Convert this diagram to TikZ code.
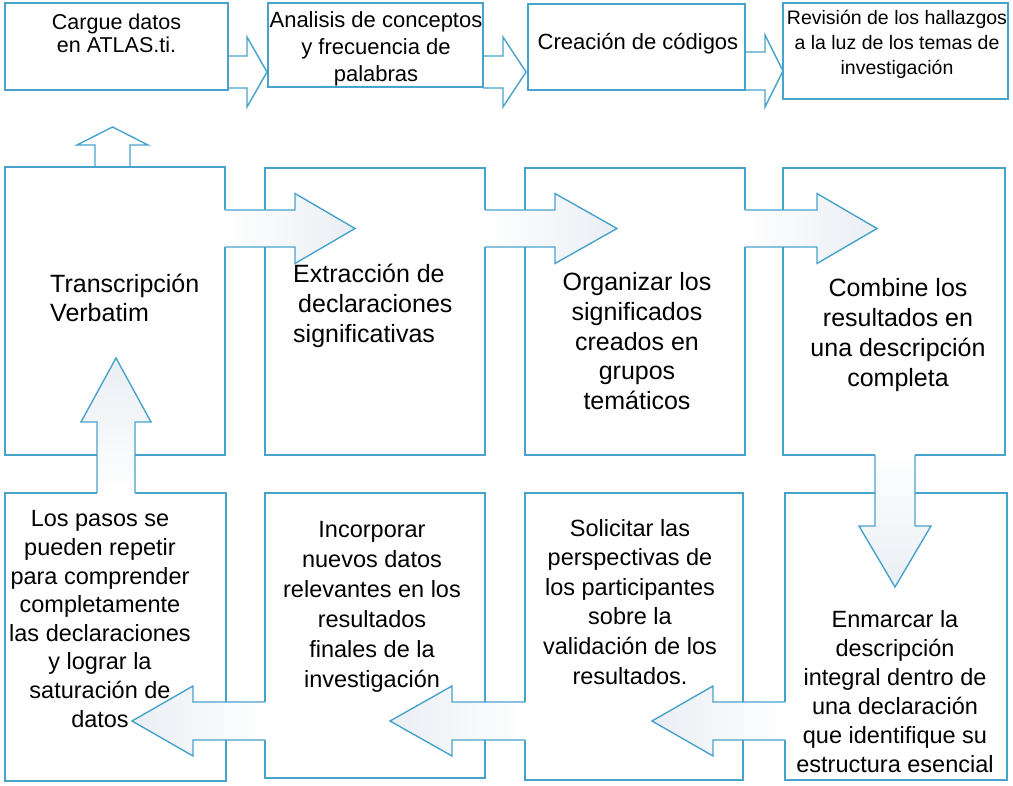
\documentclass[tikz,border=0pt]{standalone}
\usepackage{fontspec}
\setmainfont{Liberation Sans}
\usetikzlibrary{calc}
\definecolor{bl}{RGB}{72,163,204}
\definecolor{shd}{RGB}{198,207,218}
\definecolor{tipc}{RGB}{234,238,243}
\newcommand\blkH[7]{%
 \begin{scope}[shift={(#1)}]
  \path[#7] (#6,-#4) -- (#2,-#4) -- (#2,-#5) -- (#3,0) -- (#2,#5) -- (#2,#4) -- (#6,#4) -- cycle;
  \draw[blk] (0,-#4) -- (#2,-#4) -- (#2,-#5) -- (#3,0) -- (#2,#5) -- (#2,#4) -- (0,#4);
 \end{scope}}
\newcommand\blkV[7]{%
 \begin{scope}[shift={(#1)}]
  \path[#7] (-#4,#6) -- (-#4,#2) -- (-#5,#2) -- (0,#3) -- (#5,#2) -- (#4,#2) -- (#4,#6) -- cycle;
  \draw[blk] (-#4,0) -- (-#4,#2) -- (-#5,#2) -- (0,#3) -- (#5,#2) -- (#4,#2) -- (#4,0);
 \end{scope}}
\begin{document}
\begin{tikzpicture}[x=1pt,y=-1pt,
 box/.style={draw=bl, line width=2pt, rectangle, inner sep=0pt, outer sep=0pt, anchor=north west},
 blk/.style={draw=bl, line width=1.4pt, line join=miter},
 txt/.style={text=black, inner sep=0pt, align=center, anchor=base},
 rsh/.style={left color=white, middle color=shd, right color=tipc},
 lsh/.style={right color=white, middle color=shd, left color=tipc},
 dsh/.style={top color=white, middle color=shd, bottom color=tipc},
 ush/.style={bottom color=white, middle color=shd, top color=tipc},
 wf/.style={fill=white},
 ftop/.style={font=\fontsize{21.5}{23.5}\selectfont},
 fmid/.style={font=\fontsize{25}{30}\selectfont},
 fbot/.style={font=\fontsize{23.5}{29}\selectfont}
]
\useasboundingbox[fill=white] (0,0) rectangle (1013,786);
% top row
\node[box, minimum width=223, minimum height=87] (a1) at (5,3) {};
\node[box, minimum width=215, minimum height=84] (a2) at (268,3) {};
\node[box, minimum width=217, minimum height=86] (a3) at (528,4) {};
\node[box, minimum width=225, minimum height=96] (a4) at (783,3) {};
% middle row
\node[box, minimum width=220, minimum height=288] (m1) at (5,167) {};
\node[box, minimum width=220, minimum height=287] (m2) at (265,168) {};
\node[box, minimum width=220, minimum height=287] (m3) at (525,168) {};
\node[box, minimum width=222, minimum height=287] (m4) at (783,168) {};
% bottom row
\node[box, minimum width=221, minimum height=288] (b1) at (5,493) {};
\node[box, minimum width=220, minimum height=285] (b2) at (265,493) {};
\node[box, minimum width=218, minimum height=287] (b3) at (525,493) {};
\node[box, minimum width=222, minimum height=287] (b4) at (785,493) {};
% top row arrows
\blkH{a1.east |- 0,72}{19}{39}{16}{35}{1.5}{wf}
\blkH{a2.east |- 0,72}{20}{43}{16}{35}{1.5}{wf}
\blkH{a3.east |- 0,71}{20}{38}{19}{36}{1.5}{wf}
\blkV{112.5,0 |- m1.north}{-22}{-40}{17.5}{35.5}{-1}{wf}
\draw[blk] (95,167) -- (130,167);
% middle row arrows
\blkH{m1.east |- 0,228.5}{70}{130}{18.5}{35}{-1.5}{rsh}
\blkH{m2.east |- 0,228.5}{70}{132}{18.5}{35}{-1.5}{rsh}
\blkH{m3.east |- 0,228.5}{72}{132}{18.5}{35}{-1.5}{rsh}
% down arrow
\blkV{895,0 |- m4.south}{71}{132}{20}{36}{-1.5}{dsh}
% bottom row arrows
\blkH{b2.west |- 0,721}{-72}{-133}{19}{35}{1.5}{lsh}
\blkH{b3.west |- 0,721}{-73}{-135}{19}{35}{1.5}{lsh}
\blkH{b4.west |- 0,721}{-72}{-133}{19}{35}{1.5}{lsh}
% up arrow
\blkV{116,0 |- b1.north}{-71}{-135}{19}{35}{1.5}{ush}
% texts (anchor base = baseline of last line)
\node[txt, ftop] (ta1) at (116.5,53) {Cargue datos\\en ATLAS.ti.};
\node[txt, font=\fontsize{22}{27}\selectfont] (ta2) at (376,82) {Analisis de conceptos\\y frecuencia de\\palabras};
\node[txt, font=\fontsize{22}{27}\selectfont] (ta3) at (638,50) {Creación de códigos};
\node[txt, font=\fontsize{19.5}{25}\selectfont] (ta4) at (897,75) {Revisión de los hallazgos\\a la luz de los temas de\\investigación};
\node[txt, align=left, anchor=base west, font=\fontsize{25}{29}\selectfont] (tm1) at (50,322) {Transcripción\\Verbatim};
\node[txt, fmid, align=left, anchor=base west] (tm2) at (293,343) {Extracción de\\\hspace*{5pt}declaraciones\\significativas};
\node[txt, fmid] (tm3) at (637,410) {Organizar los\\significados\\creados en\\grupos\\temáticos};
\node[txt, fmid] (tm4) at (898,387) {Combine los\\resultados en\\una descripción\\completa};
\node[txt, font=\fontsize{23.5}{28.6}\selectfont] (tb1) at (100,727) {Los pasos se\\pueden repetir\\para comprender\\completamente\\las declaraciones\\y lograr la\\saturación de\\datos};
\node[txt, font=\fontsize{23.5}{30}\selectfont] (tb2) at (372,687) {Incorporar\\nuevos datos\\relevantes en los\\resultados\\finales de la\\investigación};
\node[txt, font=\fontsize{23.5}{29.6}\selectfont] (tb3) at (630,684) {Solicitar las\\perspectivas de\\los participantes\\sobre la\\validación de los\\resultados.};
\node[txt, fbot] (tb4) at (895,772) {Enmarcar la\\descripción\\integral dentro de\\una declaración\\que identifique su\\estructura esencial};
\end{tikzpicture}
\end{document}
